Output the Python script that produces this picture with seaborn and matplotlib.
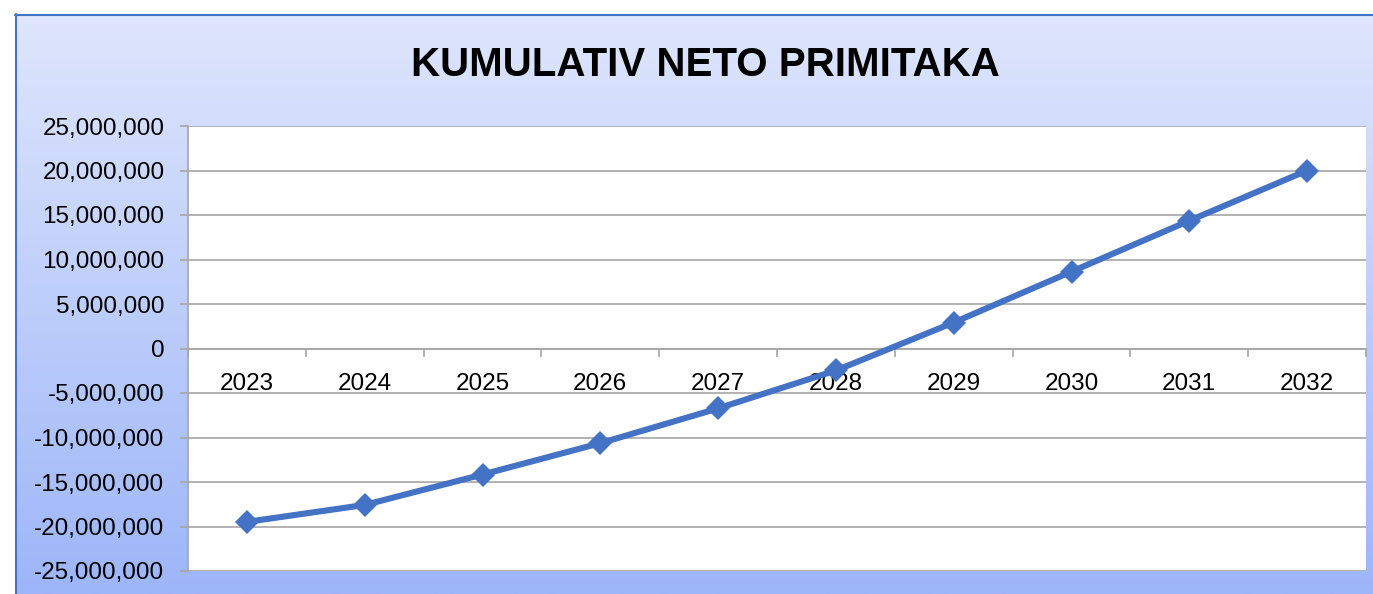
import numpy as np
import pandas as pd
import matplotlib
matplotlib.use('Agg')
import matplotlib.pyplot as plt
import matplotlib.ticker as mticker
from matplotlib.colors import LinearSegmentedColormap
import seaborn as sns

# values
years = ['2023', '2024', '2025', '2026', '2027', '2028', '2029', '2030', '2031', '2032']
cumulative = [-19480000, -17580000, -14160000, -10640000, -6730000,
              -2470000, 2920000, 8640000, 14360000, 20000000]
title = 'KUMULATIV NETO PRIMITAKA'

W, H = 1373, 594
sns.set_theme(style='white')
plt.rcParams['font.family'] = ['Liberation Sans', 'DejaVu Sans']

fig = plt.figure(figsize=(W / 100, H / 100), dpi=100)
fig.patch.set_facecolor('white')

# gradient chart background (Excel style)
bg = fig.add_axes([15 / W, 0, 1 - 15 / W, (H - 14) / H], zorder=0)
cmap = LinearSegmentedColormap.from_list('bg', ['#dfe6fd', '#9db6f9'])
grad = np.linspace(0, 1, 256).reshape(-1, 1)
bg.imshow(grad, aspect='auto', cmap=cmap, extent=[0, 1, 0, 1], origin='upper')
bg.set_axis_off()
# blue border on left and top
fig.add_artist(plt.Line2D([15.5 / W, 15.5 / W], [0, (H - 14) / H], color='#4472c4', lw=1.5))
fig.add_artist(plt.Line2D([15 / W, 1], [(H - 14.5) / H, (H - 14.5) / H], color='#4472c4', lw=1.5))

fig.text(705 / W, 1 - 65 / H, title, ha='center', va='center',
         fontsize=29, fontweight='bold', color='black')

# plot area
ax = fig.add_axes([188 / W, (H - 571) / H, 1178 / W, 445 / H], zorder=1)
ax.set_facecolor('white')

df = pd.DataFrame({'pos': np.arange(len(years)), 'value': cumulative})
sns.lineplot(data=df, x='pos', y='value', ax=ax, color='#4472c4', lw=4.4,
             marker='D', markersize=12, markeredgewidth=0, zorder=3)

ax.set_xlim(-0.5, len(years) - 0.5)
ax.set_ylim(-25000000, 25000000)
ax.yaxis.set_major_locator(mticker.MultipleLocator(5000000))
ax.yaxis.set_major_formatter(mticker.FuncFormatter(lambda v, p: f'{v:,.0f}'))
ax.grid(axis='y', color='#a6a6a6', lw=1.2)
ax.set_axisbelow(True)

# category axis crossing at zero
ax.spines['bottom'].set_position(('data', 0))
ax.spines['bottom'].set_color('#a6a6a6')
ax.spines['bottom'].set_linewidth(1.2)
ax.spines['left'].set_color('#a6a6a6')
ax.spines['left'].set_linewidth(1.2)
ax.spines['top'].set_visible(False)
ax.spines['right'].set_visible(False)

ax.set_xticks(np.arange(len(years)))
ax.set_xticklabels(years)
ax.set_xticks(np.arange(len(years) + 1) - 0.5, minor=True)
ax.tick_params(axis='x', which='major', length=0, pad=18, labelsize=17.5, colors='black')
ax.tick_params(axis='x', which='minor', bottom=True, direction='out', length=6,
               width=1.2, color='#a6a6a6')
ax.tick_params(axis='y', left=True, direction='out', length=6, width=1.2,
               color='#a6a6a6', labelsize=17.5, labelcolor='black', pad=11)
ax.set_xlabel('')
ax.set_ylabel('')

fig.savefig('out.png', dpi=100)
